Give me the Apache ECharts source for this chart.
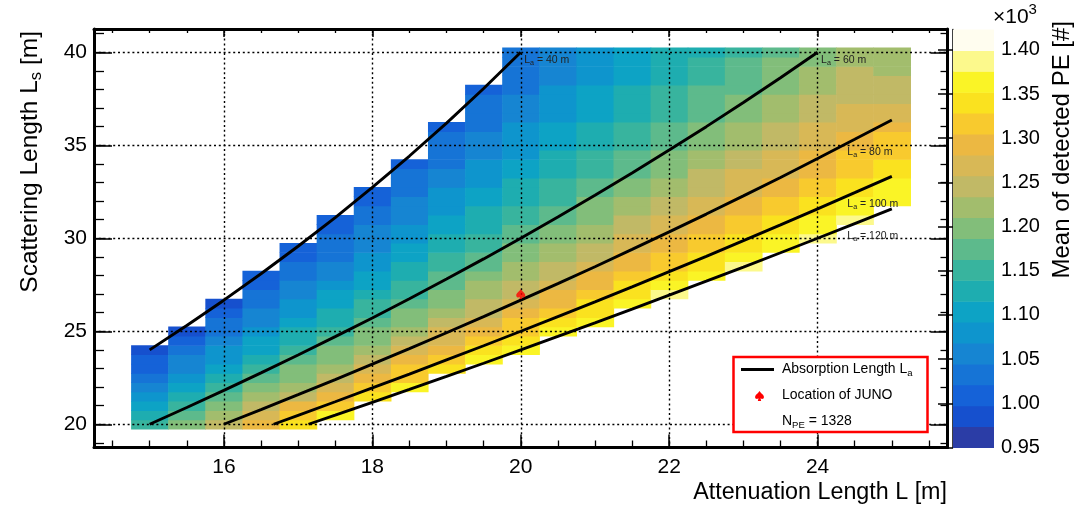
<!DOCTYPE html>
<html>
<head>
<meta charset="utf-8">
<script src="https://cdn.jsdelivr.net/npm/echarts@6/dist/echarts.min.js"></script>
<style>html,body{margin:0;padding:0;background:#fff}#c{width:1074px;height:511px}</style>
</head>
<body>
<div id="c"></div>
<script>
// ---------------- data ----------------
const attenuation = [15,15.5,16,16.5,17,17.5,18,18.5,19,19.5,20,20.5,21,21.5,22,22.5,23,23.5,24,24.5,25];
// Ls of the lowest filled bin in each column (bins every 0.5 m going up)
const scatterStart = [20,20,20,20,20,20.5,21.5,22,23,23.5,24,25,25.5,26.5,27,28,28.5,29.5,30,31,32];
const meanPE = [
  [1151,1125,1101,1079,1058,1039,1020,1003,987],
  [1200,1173,1148,1125,1103,1083,1064,1046,1029,1014,995],
  [1248,1220,1194,1170,1148,1126,1107,1088,1071,1054,1039,1024,1010,997],
  [1295,1266,1239,1214,1191,1169,1148,1129,1111,1094,1078,1063,1048,1035,1022,1009,998],
  [1341,1311,1283,1257,1233,1210,1189,1169,1150,1132,1116,1100,1085,1071,1058,1045,1033,1022,1011,1000],
  [1355,1326,1299,1274,1250,1228,1208,1189,1170,1153,1137,1121,1107,1093,1080,1068,1056,1044,1034,1023,1014,1004],
  [1340,1314,1290,1267,1246,1226,1207,1189,1172,1157,1142,1127,1114,1101,1089,1077,1066,1056,1046,1036,1027,1018,1010],
  [1353,1328,1305,1283,1262,1243,1224,1207,1191,1175,1161,1147,1134,1121,1109,1098,1087,1077,1067,1057,1048,1040,1031,1023,1016],
  [1341,1319,1298,1278,1259,1241,1224,1208,1193,1179,1166,1153,1140,1129,1118,1107,1097,1087,1078,1069,1060,1052,1044,1037,1029,1022,1016],
  [1354,1332,1312,1293,1274,1257,1241,1225,1211,1197,1183,1171,1159,1147,1136,1126,1116,1106,1097,1089,1080,1072,1064,1057,1050,1043,1036,1030,1024,1018],
  [1366,1345,1325,1307,1289,1272,1256,1241,1227,1213,1200,1188,1176,1165,1154,1144,1134,1125,1116,1107,1099,1091,1084,1076,1069,1062,1056,1050,1044,1038,1032,1027,1021],
  [1357,1338,1320,1303,1287,1271,1256,1243,1229,1217,1205,1193,1182,1172,1162,1152,1143,1134,1126,1117,1110,1102,1095,1088,1081,1075,1069,1063,1057,1052,1046],
  [1369,1350,1333,1316,1300,1285,1271,1257,1245,1232,1221,1209,1199,1188,1178,1169,1160,1151,1143,1135,1127,1120,1113,1106,1100,1093,1087,1081,1076,1070],
  [1362,1345,1329,1313,1299,1285,1272,1259,1247,1236,1225,1214,1204,1195,1185,1176,1168,1160,1152,1144,1137,1130,1124,1117,1111,1105,1099,1093],
  [1385,1356,1341,1326,1312,1298,1285,1273,1261,1250,1239,1229,1219,1210,1201,1192,1184,1176,1168,1161,1154,1147,1140,1134,1128,1122,1116],
  [1367,1352,1338,1324,1311,1298,1287,1275,1264,1254,1244,1234,1225,1216,1208,1199,1192,1184,1177,1170,1163,1157,1150,1144,1138],
  [1380,1363,1349,1336,1323,1311,1299,1288,1278,1267,1258,1248,1239,1231,1222,1214,1207,1199,1192,1185,1178,1172,1166,1160],
  [1374,1360,1347,1335,1323,1312,1301,1291,1280,1271,1262,1253,1244,1236,1228,1221,1214,1207,1200,1193,1187,1181],
  [1384,1371,1358,1346,1335,1323,1313,1303,1293,1284,1275,1266,1258,1250,1242,1235,1228,1221,1214,1208,1202],
  [1381,1369,1357,1346,1335,1325,1315,1305,1296,1287,1279,1271,1263,1255,1248,1241,1235,1228,1222],
  [1370,1367,1356,1346,1336,1326,1317,1305,1292,1276,1265,1252,1246,1240,1231,1226,1220]
];
// absorption-length curves [L, Ls]
const la40  = [[15,24],[15.5,25.31],[16,26.67],[16.5,28.09],[17,29.57],[17.5,31.11],[18,32.73],[18.5,34.42],[19,36.19],[19.5,38.05],[20,40]];
const la60  = [[15,20],[15.5,20.9],[16,21.82],[16.5,22.76],[17,23.72],[17.5,24.71],[18,25.71],[18.5,26.75],[19,27.81],[19.5,28.89],[20,30],[20.5,31.14],[21,32.31],[21.5,33.51],[22,34.74],[22.5,36.0],[23,37.3],[23.5,38.63],[24,40]];
const la80  = [[16,20],[16.5,20.79],[17,21.59],[17.5,22.4],[18,23.23],[18.5,24.07],[19,24.92],[19.5,25.79],[20,26.67],[20.5,27.56],[21,28.47],[21.5,29.4],[22,30.34],[22.5,31.3],[23,32.28],[23.5,33.27],[24,34.29],[24.5,35.32],[25,36.36]];
const la100 = [[16.67,20],[17,20.48],[17.5,21.21],[18,21.95],[18.5,22.7],[19,23.46],[19.5,24.22],[20,25.0],[20.5,25.79],[21,26.58],[21.5,27.39],[22,28.21],[22.5,29.03],[23,29.87],[23.5,30.72],[24,31.58],[24.5,32.45],[25,33.33]];
const la120 = [[17.14,20],[17.5,20.49],[18,21.18],[18.5,21.87],[19,22.57],[19.5,23.28],[20,24.0],[20.5,24.72],[21,25.45],[21.5,26.19],[22,26.94],[22.5,27.69],[23,28.45],[23.5,29.22],[24,30.0],[24.5,30.79],[25,31.58]];
const lineNames = ['40','60','80','100','120'];
const junoLocation = [20, 27];
const junoNPE = 1328;
// tick labels
const xMajor = [16,18,20,22,24];
const xMinor = [14.5,15,15.5,16,16.5,17,17.5,18,18.5,19,19.5,20,20.5,21,21.5,22,22.5,23,23.5,24,24.5,25,25.5];
const yMajor = [20,25,30,35,40];
const yMinor = [19,20,21,22,23,24,25,26,27,28,29,30,31,32,33,34,35,36,37,38,39,40,41];
const zTicks = [950,1000,1050,1100,1150,1200,1250,1300,1350,1400];
// colour contour levels (20 bands) and palette (bottom -> top)
const levels = [950,973.65,997.3,1020.95,1044.6,1068.25,1091.9,1115.55,1139.2,1162.85,1186.5,1210.15,1233.8,1257.45,1281.1,1304.75,1328.4,1352.05,1375.7,1399.35,1423];
const palette = ['#2B3DA6','#1650CE','#1562D8','#1674D6','#1685D2','#0E95CD','#0DA3C5','#1EADB0','#38B49E','#5DBA8C','#82BE7A','#A2BD6D','#C1B966','#D8B856','#ECB842','#F8CA2E','#FAE21F','#FAF426','#FCF98C','#FFFDEF'];

// ---------------- chart ----------------
const FONT = '"Liberation Sans", Arial, Helvetica, sans-serif';
const chart = echarts.init(document.getElementById('c'));

function colorOf(v) {
  for (let i = 0; i < palette.length; i++) if (v < levels[i + 1]) return palette[i];
  return palette[palette.length - 1];
}
const cells = [];
attenuation.forEach((L, i) => meanPE[i].forEach((v, j) => cells.push([L, scatterStart[i] + j * 0.5, v])));
const bands = palette.map((c, i) => [i]);

const subRich = (fs, col) => ({
  n: {fontSize: fs, fontFamily: FONT, color: col},
  s: {fontSize: fs * 0.68, fontFamily: FONT, color: col, padding: [fs * 0.55, 0, 0, 0]}
});
const spade = 'path://M50,0 C65,25 100,42 100,64 C100,84 76,92 58,77 L67,100 L33,100 L42,77 C24,92 0,84 0,64 C0,42 35,25 50,0 Z';
// legend marker outline (unit box 9 x 10)
const spadePoly = [[4.5,0],[6,2],[8.2,4],[9,6],[8.5,7.5],[7,8],[5.5,7.2],[6.2,10],[2.8,10],[3.5,7.2],[2,8],[0.5,7.5],[0,6],[0.8,4],[3,2]];

const labelOffsets = [[3,8],[3,8],[-45,32],[-45,28],[-45,27]];
const curves = [la40, la60, la80, la100, la120];
const lineSeries = curves.map((d, k) => ({
  type: 'line', xAxisIndex: 0, yAxisIndex: 0, data: d, showSymbol: false, z: 3,
  lineStyle: {color: '#000', width: 2.9}, silent: true,
  markPoint: {
    symbol: 'circle', symbolSize: 1, itemStyle: {color: 'rgba(0,0,0,0)'}, silent: true,
    label: {show: true, position: 'right', distance: 0, offset: labelOffsets[k],
      formatter: '{n|L}{s|a}{n| = ' + lineNames[k] + ' m}', rich: subRich(10.5, '#222')},
    data: [{coord: d[d.length - 1]}]
  }
}));

const axLine = w => ({show: true, onZero: false, lineStyle: {color: '#000', width: w}});
const dotted = {show: true, lineStyle: {color: '#000', width: 1.4, type: [2, 2.8]}};
const base = {type: 'value', gridIndex: 0, z: 2};
const xRange = {min: 14.25, max: 25.75};
const yRange = {min: 18.75, max: 41.25};
const noLab = {show: false};
const tick = (len, vals, w) => ({show: true, inside: true, length: len, customValues: vals, lineStyle: {color: '#000', width: w}});

const option = {
  animation: false,
  backgroundColor: '#fff',
  grid: [
    {left: 94, right: 126.5, top: 29, bottom: 63.5, containLabel: false, outerBoundsMode: 'none'},
    {left: 953, width: 41, top: 29.5, height: 418, containLabel: false, outerBoundsMode: 'none'}
  ],
  xAxis: [
    Object.assign({}, base, xRange, {position: 'bottom', axisLine: axLine(3), axisTick: tick(13, xMajor, 1.5),
      axisLabel: {show: true, customValues: xMajor, fontSize: 21, color: '#000', margin: 9, fontFamily: FONT},
      splitLine: dotted}),
    Object.assign({}, base, xRange, {position: 'bottom', axisLine: {show: false}, axisTick: tick(7, xMinor, 1.3), axisLabel: noLab, splitLine: {show: false}}),
    Object.assign({}, base, xRange, {position: 'top', axisLine: axLine(3), axisTick: tick(8, xMajor, 1.5), axisLabel: noLab, splitLine: {show: false}}),
    Object.assign({}, base, xRange, {position: 'top', axisLine: {show: false}, axisTick: tick(4, xMinor, 1.3), axisLabel: noLab, splitLine: {show: false}}),
    {type: 'value', gridIndex: 1, min: 0, max: 1, show: false}
  ],
  yAxis: [
    Object.assign({}, base, yRange, {position: 'left', axisLine: axLine(3), axisTick: tick(18, yMajor, 1.5),
      axisLabel: {show: true, customValues: yMajor, fontSize: 21, color: '#000', margin: 7, fontFamily: FONT},
      splitLine: dotted}),
    Object.assign({}, base, yRange, {position: 'left', axisLine: {show: false}, axisTick: tick(10, yMinor, 1.3), axisLabel: noLab, splitLine: {show: false}}),
    Object.assign({}, base, yRange, {position: 'right', axisLine: axLine(3), axisTick: tick(17, yMajor, 1.5), axisLabel: noLab, splitLine: {show: false}}),
    Object.assign({}, base, yRange, {position: 'right', axisLine: {show: false}, axisTick: tick(7, yMinor, 1.3), axisLabel: noLab, splitLine: {show: false}}),
    {type: 'value', gridIndex: 1, position: 'right', min: levels[0], max: levels[levels.length - 1],
      axisLine: {show: true, lineStyle: {color: '#000', width: 1.5}},
      axisTick: {show: true, inside: true, length: 15, customValues: zTicks, lineStyle: {color: '#000', width: 1.5}},
      axisLabel: {show: true, customValues: zTicks, fontSize: 20, color: '#000', margin: 7, fontFamily: FONT,
        formatter: v => (v / 1000).toFixed(2)},
      splitLine: {show: false}}
  ],
  series: [
    {type: 'custom', xAxisIndex: 0, yAxisIndex: 0, z: 1, silent: true, data: cells,
      encode: {x: 0, y: 1},
      renderItem: (params, api) => {
        const L = api.value(0), S = api.value(1), v = api.value(2);
        const a = api.coord([L - 0.25, S + 0.25]);
        const b = api.coord([L + 0.25, S - 0.25]);
        return {type: 'rect', shape: {x: a[0], y: a[1], width: b[0] - a[0] + 0.6, height: b[1] - a[1] + 0.6},
          style: {fill: colorOf(v)}};
      }},
    ...lineSeries,
    {type: 'scatter', xAxisIndex: 0, yAxisIndex: 0, z: 4, silent: true, data: [junoLocation],
      symbol: spade, symbolSize: [9, 10], itemStyle: {color: '#ff0000'}},
    {type: 'custom', xAxisIndex: 4, yAxisIndex: 4, silent: true, data: bands,
      renderItem: (params, api) => {
        const i = api.value(0);
        const a = api.coord([0, levels[i + 1]]);
        const b = api.coord([1, levels[i]]);
        return {type: 'rect', shape: {x: a[0], y: a[1], width: b[0] - a[0], height: b[1] - a[1] + 0.5},
          style: {fill: palette[i]}};
      }}
  ],
  graphic: [
    {type: 'text', x: 947, y: 493, z: 100, silent: true,
      style: {text: 'Attenuation Length L [m]', fontSize: 23.3, fontFamily: FONT, fill: '#000', align: 'right', textAlign: 'right', verticalAlign: 'middle', textVerticalAlign: 'middle'}},
    {type: 'text', x: 30, y: 31, rotation: Math.PI / 2, z: 100, silent: true,
      style: {text: '{n|Scattering Length L}{s|s}{n| [m]}', rich: subRich(24.5, '#000'), align: 'right', textAlign: 'right', verticalAlign: 'middle', textVerticalAlign: 'middle'}},
    {type: 'text', x: 1062, y: 21, rotation: Math.PI / 2, z: 100, silent: true,
      style: {text: 'Mean of detected PE [#]', fontSize: 24, fontFamily: FONT, fill: '#000', align: 'right', textAlign: 'right', verticalAlign: 'middle', textVerticalAlign: 'middle'}},
    {type: 'text', x: 993, y: 17, z: 100, silent: true,
      style: {text: '{n|\u00d710}{p|3}', align: 'left', textAlign: 'left', verticalAlign: 'middle', textVerticalAlign: 'middle',
        rich: {n: {fontSize: 21, fontFamily: FONT, color: '#000'}, p: {fontSize: 15, fontFamily: FONT, color: '#000', padding: [0, 0, 14, 0]}}}},
    // legend box
    {type: 'rect', z: 100, silent: true, shape: {x: 733.5, y: 357, width: 194, height: 75},
      style: {fill: '#fff', stroke: '#ff0000', lineWidth: 2.5}},
    {type: 'line', z: 101, silent: true, shape: {x1: 741, y1: 369.5, x2: 774, y2: 369.5},
      style: {stroke: '#000', lineWidth: 2.9}},
    {type: 'polygon', z: 101, silent: true, x: 755, y: 391, shape: {points: spadePoly},
      style: {fill: '#ff0000'}},
    {type: 'text', x: 782, y: 369.5, z: 101, silent: true,
      style: {text: '{n|Absorption Length L}{s|a}', rich: subRich(14, '#000'), align: 'left', textAlign: 'left', verticalAlign: 'middle', textVerticalAlign: 'middle'}},
    {type: 'text', x: 782, y: 395.5, z: 101, silent: true,
      style: {text: 'Location of JUNO', fontSize: 14, fontFamily: FONT, fill: '#000', align: 'left', textAlign: 'left', verticalAlign: 'middle', textVerticalAlign: 'middle'}},
    {type: 'text', x: 782, y: 421.5, z: 101, silent: true,
      style: {text: '{n|N}{s|PE}{n| = ' + junoNPE + '}', rich: subRich(14, '#000'), align: 'left', textAlign: 'left', verticalAlign: 'middle', textVerticalAlign: 'middle'}}
  ]
};
chart.setOption(option);
</script>
</body>
</html>
